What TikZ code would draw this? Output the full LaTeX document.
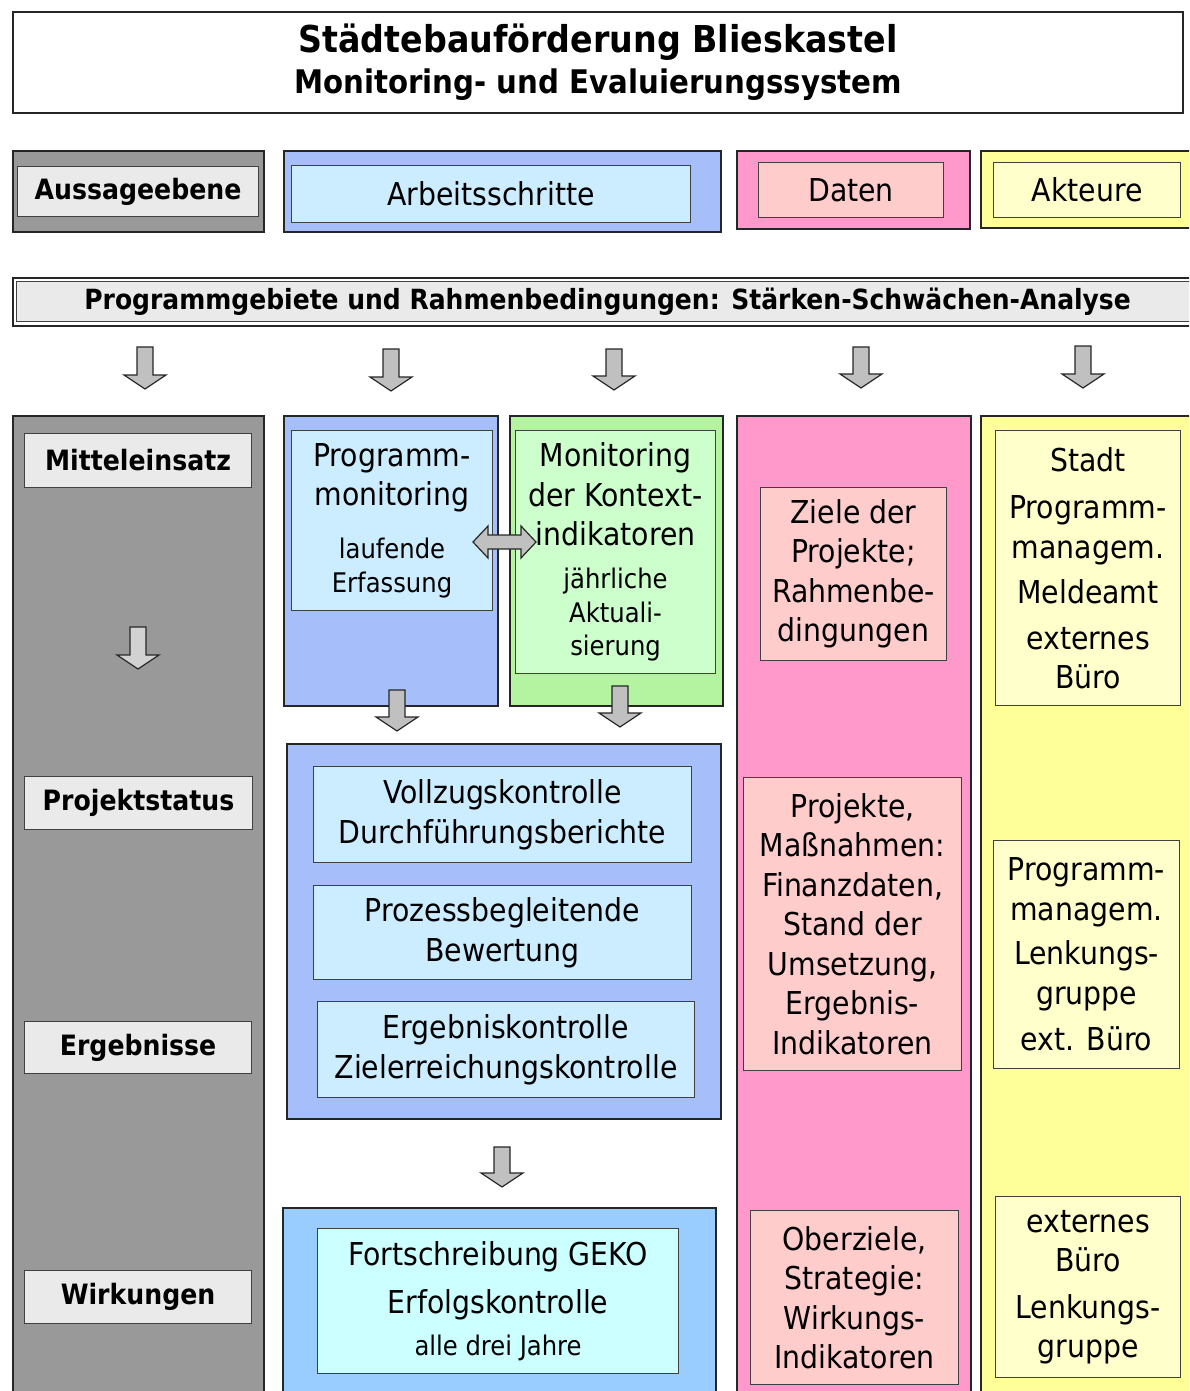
\documentclass[tikz,border=0pt]{standalone}
\usepackage{fontspec}
\setmainfont{DejaVu Sans Condensed}
\definecolor{colgray}{HTML}{999999}
\definecolor{lightgray}{HTML}{EAEAEA}
\definecolor{colblue}{HTML}{A6BEFA}
\definecolor{lightblue}{HTML}{CCECFF}
\definecolor{colgreen}{HTML}{B4F4A0}
\definecolor{lightgreen}{HTML}{CCFFCC}
\definecolor{colpink}{HTML}{FF99CC}
\definecolor{lightpink}{HTML}{FFCCCC}
\definecolor{colyellow}{HTML}{FFFF99}
\definecolor{lightyellow}{HTML}{FFFFCC}
\definecolor{skyblue}{HTML}{99CCFF}
\definecolor{lightcyan}{HTML}{CCFFFF}
\definecolor{arrowgray}{HTML}{C0C0C0}
\definecolor{paleArrow}{HTML}{D2D2D2}
\newcommand{\fz}[2]{\fontsize{#1}{#2}\selectfont}
\newcommand{\smalltxt}{\fz{27}{34}}
% block arrow pointing down: x, top y, tip y
\newcommand{\blockdown}[4][arrowgray]{%
  \draw[blockarrow, fill=#1] (#2-8,#3) -- (#2+8,#3) -- (#2+8,#4-14) -- (#2+21,#4-14)
    -- (#2,#4) -- (#2-21,#4-14) -- (#2-8,#4-14) -- cycle;}
\begin{document}
\begin{tikzpicture}[x=1pt,y=-1pt,
  frame/.style={draw=black!85, line width=1.6pt, inner sep=0pt, anchor=north west, align=center},
  sz/.style 2 args={minimum width=#1, minimum height=#2},
  inner/.style={draw=black!75, line width=1.1pt, inner sep=0pt, anchor=north west, align=center},
  lbl/.style={font=\fz{28}{32}\bfseries},
  txt/.style={font=\fz{31.5}{39.5}},
  blockarrow/.style={draw=black!85, line width=1.2pt, line join=miter}
]
\useasboundingbox (0,0) rectangle (1189,1391);
\clip (0,0) rectangle (1189,1391);

% title
\node[frame, sz={1170}{101}, line width=2pt, font=\fz{37}{41}\bfseries] (title) at (12,11)
  {Städtebauförderung Blieskastel\\[0pt]\fz{32.5}{38}\bfseries Monitoring- und Evaluierungssystem};

% header row
\node[frame, sz={251}{81}, fill=colgray] (hgray) at (12,150) {};
\node[inner, sz={241}{50}, fill=lightgray, lbl] (haussage) at (17,166) {Aussageebene};
\node[frame, sz={437}{81}, fill=colblue] (hblue) at (283,150) {};
\node[inner, sz={399}{57}, fill=lightblue, txt] (harbeit) at (291,165) {Arbeitsschritte};
\node[frame, sz={233}{78}, fill=colpink] (hpink) at (736,150) {};
\node[inner, sz={185}{55}, fill=lightpink, txt] (hdaten) at (758,162) {Daten};
\node[frame, sz={230}{77}, fill=colyellow] (hyellow) at (980,150) {};
\node[inner, sz={187}{55}, fill=lightyellow, txt] (hakteure) at (993,162) {Akteure};

% analysis bar with double border
\node[frame, sz={1190}{48}, fill=white] (barout) at (12,277) {};
\node[inner, sz={1182}{40}, fill=lightgray, font=\fz{27.8}{32}\bfseries] (bar) at (16,281)
  {Programmgebiete und Rahmenbedingungen: Stärken-Schwächen-Analyse};

% arrows below the bar
\blockdown{145}{347}{389}
\blockdown{391}{349}{391}
\blockdown{614}{349}{390}
\blockdown{861}{347}{388}
\blockdown{1083}{346}{388}

% columns
\node[frame, sz={251}{1000}, fill=colgray] (cgray) at (12,415) {};
\node[frame, sz={214}{290}, fill=colblue] (cblue) at (283,415) {};
\node[frame, sz={213}{290}, fill=colgreen] (cgreen) at (509,415) {};
\node[frame, sz={234}{1000}, fill=colpink] (cpink) at (736,415) {};
\node[frame, sz={230}{1000}, fill=colyellow] (cyellow) at (980,415) {};
\node[frame, sz={434}{375}, fill=colblue] (cmid) at (286,743) {};
\node[frame, sz={433}{200}, fill=skyblue] (cbottom) at (282,1207) {};

% levels
\node[inner, sz={227}{54}, fill=lightgray, lbl] (mittel) at (24,433) {Mitteleinsatz};
\node[inner, sz={228}{53}, fill=lightgray, lbl] (status) at (24,776) {Projektstatus};
\node[inner, sz={227}{52}, fill=lightgray, lbl] (ergeb) at (24,1021) {Ergebnisse};
\node[inner, sz={227}{53}, fill=lightgray, lbl] (wirk) at (24,1270) {Wirkungen};
\blockdown[paleArrow]{138}{627}{669}

% working steps
\node[inner, sz={201}{180}, fill=lightblue, txt] (progmon) at (291,430)
  {Programm-\\monitoring\\[13pt]\smalltxt laufende\\[-5.5pt]\smalltxt Erfassung};
\node[inner, sz={200}{243}, fill=lightgreen, txt] (kontext) at (515,430)
  {Monitoring\\der Kontext-\\indikatoren\\[3pt]\smalltxt jährliche\\[-5.5pt]\smalltxt Aktuali-\\[-6pt]\smalltxt sierung};
\draw[blockarrow, fill=arrowgray] (473,542) -- (488,526) -- (488,535) -- (521,535) -- (521,526)
  -- (536,542) -- (521,558) -- (521,549) -- (488,549) -- (488,558) -- cycle;
\blockdown{397}{690}{731}
\blockdown{620}{686}{727}

\node[inner, sz={378}{96}, fill=lightblue, txt] (vollzug) at (313,766)
  {Vollzugskontrolle\\Durchführungsberichte};
\node[inner, sz={378}{94}, fill=lightblue, txt] (prozess) at (313,885)
  {Prozessbegleitende\\Bewertung};
\node[inner, sz={377}{96}, fill=lightblue, txt] (erfolg) at (317,1001)
  {Ergebniskontrolle\\Zielerreichungskontrolle};
\blockdown{502}{1147}{1187}
\node[inner, sz={361}{145}, fill=lightcyan, font=\fz{31.5}{48}] (geko) at (317,1228)
  {Fortschreibung GEKO\\Erfolgskontrolle\\[-6pt]\smalltxt alle drei Jahre};

% data
\node[inner, sz={186}{173}, fill=lightpink, txt] (ziele) at (760,487)
  {Ziele der\\Projekte;\\Rahmenbe-\\dingungen};
\node[inner, sz={218}{293}, fill=lightpink, txt] (projekte) at (743,777)
  {Projekte,\\Maßnahmen:\\Finanzdaten,\\Stand der\\Umsetzung,\\Ergebnis-\\Indikatoren};
\node[inner, sz={208}{174}, fill=lightpink, txt] (oberziele) at (750,1210)
  {Oberziele,\\Strategie:\\Wirkungs-\\Indikatoren};

% actors
\node[inner, sz={185}{275}, fill=lightyellow, txt] (stadt) at (995,430)
  {Stadt\\[8pt]Programm-\\managem.\\[6pt]Meldeamt\\[6pt]externes\\Büro};
\node[inner, sz={186}{228}, fill=lightyellow, txt] (lenk) at (993,840)
  {Programm-\\managem.\\[5pt]Lenkungs-\\gruppe\\[7pt]ext. Büro};
\node[inner, sz={185}{181}, fill=lightyellow, txt] (extern) at (995,1196)
  {externes\\Büro\\[7pt]Lenkungs-\\gruppe};
\end{tikzpicture}
\end{document}
